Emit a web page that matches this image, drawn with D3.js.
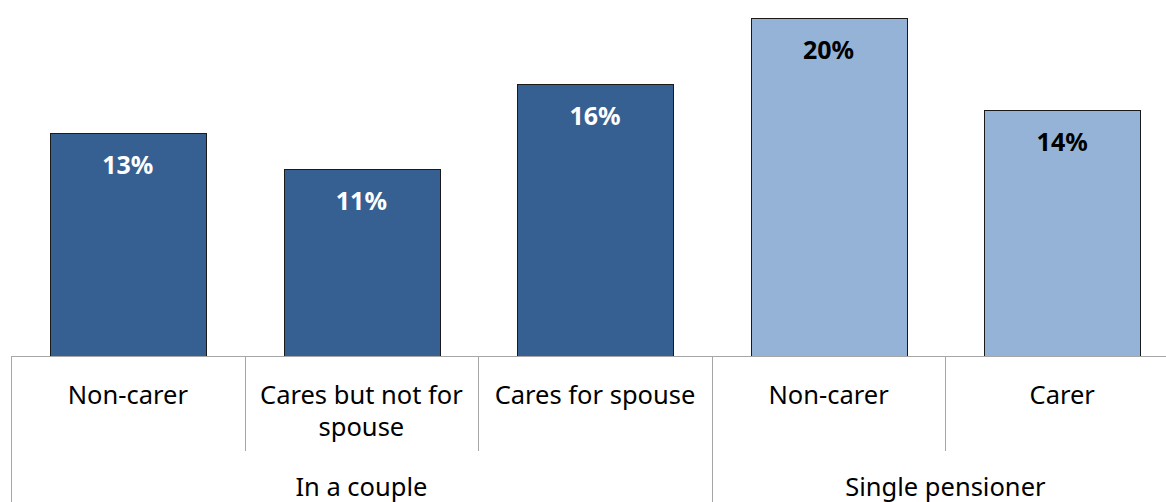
<!DOCTYPE html>
<html>
<head>
<meta charset="utf-8">
<script src="https://cdn.jsdelivr.net/npm/d3@7"></script>
<style>
  body { margin: 0; background: #fff; }
  svg { display: block; font-family: "Noto Sans", Lato, sans-serif; }
</style>
</head>
<body>
<div id="chart"></div>
<script>
// chart data
const groupNames = ["In a couple", "Single pensioner"];
const groupOf = ["In a couple", "In a couple", "In a couple", "Single pensioner", "Single pensioner"];
const categoryLines = [["Non-carer"], ["Cares but not for", "spouse"], ["Cares for spouse"], ["Non-carer"], ["Carer"]];
const values = [0.131, 0.110, 0.160, 0.199, 0.1449];

const width = 1166, height = 502;
const baseY = 356;

const svg = d3.select("#chart").append("svg")
    .attr("width", width)
    .attr("height", height);

const x = d3.scaleBand()
    .domain(d3.range(values.length))
    .range([11, 1179])
    .paddingInner(1 / 3)
    .paddingOuter(1 / 6);

const y = d3.scaleLinear()
    .domain([0, 0.2])
    .range([baseY, 16]);

const color = d3.scaleOrdinal()
    .domain(groupNames)
    .range(["#376092", "#95b3d7"]);
const labelColor = d3.scaleOrdinal()
    .domain(groupNames)
    .range(["#ffffff", "#000000"]);

const fmt = d3.format(".0%");
const step = x.step();
const x0 = x.range()[0];

// bars
svg.selectAll("rect.bar")
    .data(values)
    .join("rect")
    .attr("class", "bar")
    .attr("x", (d, i) => Math.round(x(i)) + 0.5)
    .attr("y", d => Math.round(y(d)) + 0.5)
    .attr("width", Math.round(x.bandwidth()))
    .attr("height", d => baseY - Math.round(y(d)))
    .attr("fill", (d, i) => color(groupOf[i]))
    .attr("stroke", "#1a1a1a")
    .attr("stroke-width", 1);

// value labels
svg.selectAll("text.val")
    .data(values)
    .join("text")
    .attr("class", "val")
    .attr("x", (d, i) => x(i) + x.bandwidth() / 2)
    .attr("y", d => y(d) + 41)
    .attr("text-anchor", "middle")
    .attr("font-size", 25)
    .attr("font-weight", "bold")
    .attr("fill", (d, i) => labelColor(groupOf[i]))
    .text(d => fmt(d));

// axis line
svg.append("line")
    .attr("x1", x0).attr("x2", x.range()[1])
    .attr("y1", baseY + 0.5).attr("y2", baseY + 0.5)
    .attr("stroke", "#a6a6a6");

// category separators (short) and group separators (long)
const boundaries = d3.range(values.length + 1);
svg.selectAll("line.sep")
    .data(boundaries)
    .join("line")
    .attr("class", "sep")
    .attr("x1", i => Math.round(x0 + i * step) + 0.5)
    .attr("x2", i => Math.round(x0 + i * step) + 0.5)
    .attr("y1", baseY)
    .attr("y2", i => (i === 0 || i === values.length || groupOf[i] !== groupOf[i - 1]) ? height : 451)
    .attr("stroke", "#a6a6a6");

// category labels
svg.selectAll("text.cat")
    .data(categoryLines)
    .join("text")
    .attr("class", "cat")
    .attr("text-anchor", "middle")
    .attr("font-size", 25.5)
    .attr("fill", "#000")
    .selectAll("tspan")
    .data((lines, i) => lines.map((l, j) => ({ l, j, i })))
    .join("tspan")
    .attr("x", d => x(d.i) + x.bandwidth() / 2)
    .attr("y", d => 404 + d.j * 32)
    .text(d => d.l);

// group labels
const groupSpans = groupNames.map(g => {
    const idx = groupOf.map((v, i) => v === g ? i : -1).filter(i => i >= 0);
    return { g, start: d3.min(idx), end: d3.max(idx) + 1 };
});
svg.selectAll("text.grp")
    .data(groupSpans)
    .join("text")
    .attr("class", "grp")
    .attr("x", d => x0 + (d.start + d.end) / 2 * step)
    .attr("y", 496)
    .attr("text-anchor", "middle")
    .attr("font-size", 25.5)
    .attr("fill", "#000")
    .text(d => d.g);
</script>
</body>
</html>
